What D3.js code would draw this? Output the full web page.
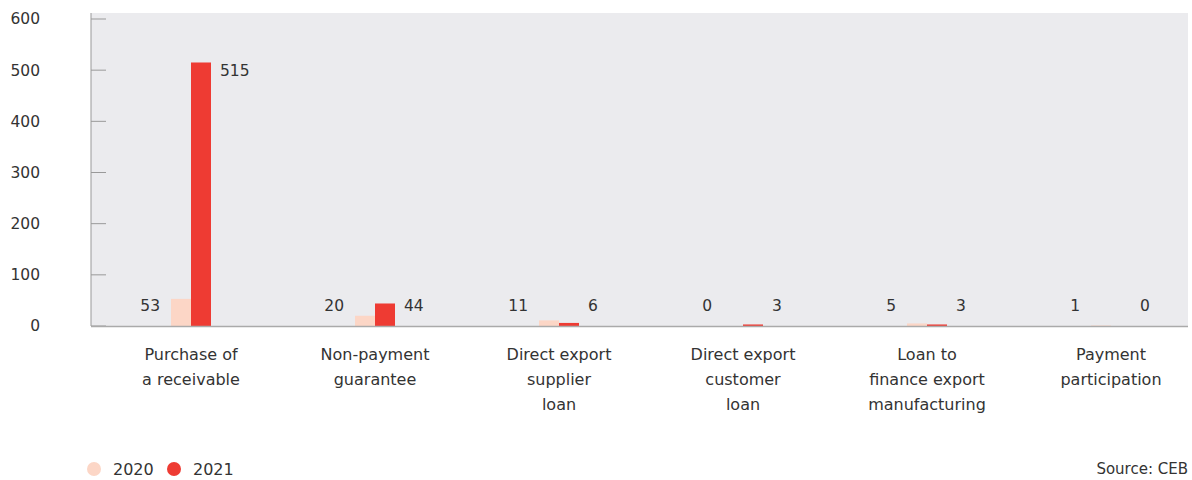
<!DOCTYPE html>
<html>
<head>
<meta charset="utf-8">
<script src="https://cdn.jsdelivr.net/npm/d3@7"></script>
<style>
  body { margin: 0; background: #fff; }
  text { font-family: "DejaVu Sans", sans-serif; fill: #333; }
</style>
</head>
<body>
<div id="chart"></div>
<script>
var categories = [
    ["Purchase of", "a receivable"],
    ["Non-payment", "guarantee"],
    ["Direct export", "supplier", "loan"],
    ["Direct export", "customer", "loan"],
    ["Loan to", "finance export", "manufacturing"],
    ["Payment", "participation"]
];
var years = ["2020", "2021"];
var values2020 = [53, 20, 11, 0, 5, 1];
var values2021 = [515, 44, 6, 3, 3, 0];
var yTicks = [0, 100, 200, 300, 400, 500, 600];
var colors = ["#fcd6c6", "#ee3b33"];

function init(){
    var w = 1192;
    var h = 480;
    var plotLeft = 91, plotRight = 1188, plotTop = 13, plotBottom = 326;

    var svg = d3.select("#chart")
                .append("svg")
                .attr("width", w)
                .attr("height", h);

    var y = d3.scaleLinear()
                .domain([0, 600])
                .range([plotBottom, 19]);

    var x = d3.scaleBand()
                .domain(d3.range(categories.length))
                .range([99, 1203])
                .paddingInner(0);

    var sub = d3.scaleBand()
                .domain(years)
                .range([0, 40]);

    // background
    svg.append("rect")
        .attr("x", plotLeft)
        .attr("y", plotTop)
        .attr("width", plotRight - plotLeft)
        .attr("height", plotBottom - plotTop)
        .attr("fill", "#ebebee");

    // y axis
    var yAxis = d3.axisLeft(y)
                .tickValues(yTicks)
                .tickSize(0)
                .tickPadding(0);
    var ga = svg.append("g")
        .attr("transform", "translate(40,0)")
        .call(yAxis);
    ga.select(".domain").remove();
    ga.selectAll("text")
        .style("font-size", "15.5px")
        .attr("fill", "#333")
        .style("font-family", "'DejaVu Sans', sans-serif");

    svg.selectAll("line.tick")
        .data(yTicks)
        .enter()
        .append("line")
        .attr("class", "tick")
        .attr("x1", plotLeft)
        .attr("x2", plotLeft + 15)
        .attr("y1", function(d){ return y(d); })
        .attr("y2", function(d){ return y(d); })
        .attr("stroke", "#999")
        .attr("stroke-width", 1);

    svg.append("line")
        .attr("x1", plotLeft).attr("x2", plotLeft)
        .attr("y1", plotTop).attr("y2", plotBottom)
        .attr("stroke", "#999");

    // bars
    var series = [values2020, values2021];
    series.forEach(function(vals, s){
        svg.selectAll("rect.bar" + s)
            .data(vals)
            .enter()
            .append("rect")
            .attr("class", "bar" + s)
            .attr("x", function(d, i){ return x(i) + x.bandwidth()/2 - 20 + sub(years[s]); })
            .attr("y", function(d){ return y(d); })
            .attr("width", sub.bandwidth())
            .attr("height", function(d){ return plotBottom - y(d); })
            .attr("fill", colors[s]);

        svg.selectAll("text.val" + s)
            .data(vals)
            .enter()
            .append("text")
            .attr("class", "val" + s)
            .text(function(d){ return d; })
            .attr("x", function(d, i){
                var c = x(i) + x.bandwidth()/2;
                return s == 0 ? c - 31 : c + 29;
            })
            .attr("y", function(d){ return Math.min(y(d) + 8, plotBottom - 20); })
            .attr("dy", "0.35em")
            .attr("text-anchor", s == 0 ? "end" : "start")
            .style("font-size", "15.5px");
    });

    // baseline
    svg.append("line")
        .attr("x1", plotLeft).attr("x2", plotRight)
        .attr("y1", plotBottom + 0.5).attr("y2", plotBottom + 0.5)
        .attr("stroke", "#aaa")
        .attr("stroke-width", 1.5);

    // category labels
    var cat = svg.selectAll("text.cat")
        .data(categories)
        .enter()
        .append("text")
        .attr("class", "cat")
        .attr("text-anchor", "middle")
        .style("font-size", "16px")
        .attr("x", function(d, i){ return x(i) + x.bandwidth()/2; })
        .attr("y", 360);
    cat.selectAll("tspan")
        .data(function(d){ return d; })
        .enter()
        .append("tspan")
        .attr("x", function(){ return d3.select(this.parentNode).attr("x"); })
        .attr("dy", function(d, i){ return i == 0 ? 0 : 25; })
        .text(function(d){ return d; });

    // legend
    var lg = svg.selectAll("g.legend")
        .data(years)
        .enter()
        .append("g")
        .attr("class", "legend")
        .attr("transform", function(d, i){ return "translate(" + (94 + i*80) + ",469)"; });
    lg.append("circle")
        .attr("r", 7)
        .attr("fill", function(d, i){ return colors[i]; });
    lg.append("text")
        .attr("x", 19)
        .attr("dy", "0.35em")
        .style("font-size", "16px")
        .text(function(d){ return d; });

    svg.append("text")
        .attr("x", 1188)
        .attr("y", 469)
        .attr("dy", "0.35em")
        .attr("text-anchor", "end")
        .style("font-size", "15px")
        .text("Source: CEB");
}
window.onload = init;
</script>
</body>
</html>
